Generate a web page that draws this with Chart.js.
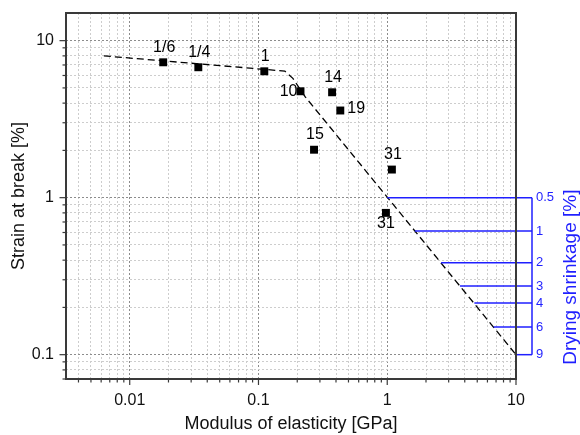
<!DOCTYPE html>
<html>
<head>
<meta charset="utf-8">
<script src="https://cdn.jsdelivr.net/npm/chart.js@4/dist/chart.umd.min.js"></script>
<style>
  html, body { margin: 0; padding: 0; background: #fff; }
  #wrap { width: 580px; height: 435px; }
</style>
</head>
<body>
<div id="wrap"><canvas id="strain-chart" width="580" height="435"></canvas></div>
<script>
const pointLabels = ['1/6', '1/4', '1', '10', '14', '19', '15', '31', '31'];
const modulus = [0.0182, 0.0341, 0.111, 0.212, 0.373, 0.432, 0.270, 1.087, 0.977];
const strain = [7.28, 6.77, 6.38, 4.76, 4.69, 3.59, 2.02, 1.51, 0.80];

const trendModulus = [0.0063, 0.16, 0.185, 0.23, 10];
const trendStrain = [8.0, 6.4, 5.75, 4.4, 0.1];

const shrinkageLabels = ['0.5', '1', '2', '3', '4', '6', '9'];
const shrinkageStrain = [1, 0.613, 0.385, 0.274, 0.213, 0.15, 0.1];
const shrinkageModulus = [1, 1.64, 2.62, 3.67, 4.75, 6.7, 10];

const xTickValues = [0.01, 0.1, 1, 10];
const xTickLabels = ['0.01', '0.1', '1', '10'];
const yTickValues = [0.1, 1, 10];
const yTickLabels = ['0.1', '1', '10'];

const FONT = "'Liberation Sans', Arial, sans-serif";
const BLUE = '#1f1fff';
const AXIS = '#3a3a3a';

// which side of its marker each label goes
const labelPlace = ['top', 'top', 'top', 'left', 'top', 'right', 'top', 'top', 'bottom'];

function logTicks(min, max) {
    let ticks = [];
    for (let e = Math.floor(Math.log10(min)); e <= Math.ceil(Math.log10(max)); e++) {
        for (let m = 1; m < 10; m++) {
            let v = parseFloat((m * Math.pow(10, e)).toPrecision(3));
            if (v >= min * 0.999 && v <= max * 1.001) {
                ticks.push({value: v, major: m === 1});
            }
        }
    }
    return ticks;
}

function tickLabel(values, labels) {
    return function(v) {
        let i = values.indexOf(v);
        return i < 0 ? '' : labels[i];
    };
}

const decorations = {
    id: 'decorations',
    afterDatasetsDraw(chart) {
        const ctx = chart.ctx;
        const x = chart.scales.x, y = chart.scales.y;
        const area = chart.chartArea;
        const axisX = area.right + 16;

        // drying shrinkage scale on the right
        ctx.save();
        ctx.strokeStyle = BLUE;
        ctx.lineWidth = 1.5;
        shrinkageStrain.forEach(function(s, i) {
            let py = y.getPixelForValue(s);
            ctx.beginPath();
            ctx.moveTo(x.getPixelForValue(shrinkageModulus[i]), py);
            ctx.lineTo(axisX, py);
            ctx.stroke();
        });
        let y0 = y.getPixelForValue(shrinkageStrain[0]);
        let y1 = y.getPixelForValue(shrinkageStrain[shrinkageStrain.length - 1]);
        ctx.beginPath();
        ctx.moveTo(axisX, y0);
        ctx.lineTo(axisX, y1);
        ctx.stroke();

        ctx.fillStyle = BLUE;
        ctx.font = '13px ' + FONT;
        ctx.textAlign = 'left';
        ctx.textBaseline = 'middle';
        shrinkageStrain.forEach(function(s, i) {
            ctx.fillText(shrinkageLabels[i], axisX + 4, y.getPixelForValue(s));
        });

        ctx.translate(area.right + 55, (y0 + y1) / 2 + 1);
        ctx.rotate(-Math.PI / 2);
        ctx.textAlign = 'center';
        ctx.font = '19px ' + FONT;
        ctx.fillText('Drying shrinkage [%]', 0, 0);
        ctx.restore();

        // sample labels
        const meta = chart.getDatasetMeta(0);
        ctx.save();
        ctx.fillStyle = '#000';
        ctx.font = '16px ' + FONT;
        ctx.textBaseline = 'middle';
        meta.data.forEach(function(pt, i) {
            let place = labelPlace[i];
            if (place === 'top') {
                ctx.textAlign = 'center';
                ctx.fillText(pointLabels[i], pt.x + 1, pt.y - 15);
            } else if (place === 'bottom') {
                ctx.textAlign = 'center';
                ctx.fillText(pointLabels[i], pt.x, pt.y + 11);
            } else if (place === 'left') {
                ctx.textAlign = 'right';
                ctx.fillText(pointLabels[i], pt.x - 3, pt.y);
            } else {
                ctx.textAlign = 'left';
                ctx.fillText(pointLabels[i], pt.x + 7, pt.y - 1.5);
            }
        });
        ctx.restore();
    },
    afterDraw(chart) {
        const ctx = chart.ctx;
        const area = chart.chartArea;
        ctx.save();
        ctx.strokeStyle = AXIS;

        // outward tick marks, long on decades
        ctx.lineWidth = 1.2;
        chart.scales.x.ticks.forEach(function(t) {
            let px = chart.scales.x.getPixelForValue(t.value);
            ctx.beginPath();
            ctx.moveTo(px, area.bottom);
            ctx.lineTo(px, area.bottom + (t.major ? 6 : 3.5));
            ctx.stroke();
        });
        chart.scales.y.ticks.forEach(function(t) {
            let py = chart.scales.y.getPixelForValue(t.value);
            ctx.beginPath();
            ctx.moveTo(area.left, py);
            ctx.lineTo(area.left - (t.major ? 6.5 : 3.5), py);
            ctx.stroke();
        });

        ctx.lineWidth = 2;
        ctx.strokeRect(area.left, area.top, area.right - area.left, area.bottom - area.top);
        ctx.restore();
    }
};

const points = modulus.map(function(m, i) { return {x: m, y: strain[i]}; });
const trend = trendModulus.map(function(m, i) { return {x: m, y: trendStrain[i]}; });

function gridColor(c) {
    return c.tick && c.tick.major ? '#8c8c8c' : '#cdcdcd';
}

new Chart(document.getElementById('strain-chart'), {
    type: 'scatter',
    data: {
        datasets: [
            {
                data: points,
                pointStyle: 'rect',
                pointRadius: 5.6,
                pointHoverRadius: 5.6,
                backgroundColor: '#000',
                borderWidth: 0,
            },
            {
                data: trend,
                showLine: true,
                borderColor: '#000',
                borderWidth: 1.3,
                borderDash: [7, 4],
                pointRadius: 0,
                fill: false,
            }
        ]
    },
    options: {
        responsive: false,
        animation: false,
        events: [],
        layout: { padding: { top: 13, right: 64, left: 0, bottom: 0 } },
        plugins: { legend: { display: false }, tooltip: { enabled: false } },
        scales: {
            x: {
                type: 'logarithmic',
                position: 'bottom',
                min: 0.0032,
                max: 10,
                afterBuildTicks: function(axis) { axis.ticks = logTicks(axis.min, axis.max); },
                afterFit: function(axis) {
                    axis.height = 56;
                    axis.paddingLeft = 0;
                    axis.paddingRight = 0;
                },
                grid: { color: gridColor, lineWidth: 1, drawTicks: false },
                border: { display: false, dash: [2, 2] },
                ticks: {
                    autoSkip: false,
                    maxRotation: 0,
                    padding: 12,
                    color: '#111',
                    font: { family: FONT, size: 16 },
                    callback: tickLabel(xTickValues, xTickLabels),
                },
                title: {
                    display: true,
                    text: 'Modulus of elasticity [GPa]',
                    color: '#111',
                    font: { family: FONT, size: 18 },
                    padding: { top: 0, bottom: 0 },
                }
            },
            y: {
                type: 'logarithmic',
                position: 'left',
                min: 0.07,
                max: 15,
                afterBuildTicks: function(axis) { axis.ticks = logTicks(axis.min, axis.max); },
                afterFit: function(axis) {
                    axis.width = 66;
                    axis.paddingTop = 0;
                    axis.paddingBottom = 0;
                },
                grid: { color: gridColor, lineWidth: 1, drawTicks: false },
                border: { display: false, dash: [2, 2] },
                ticks: {
                    autoSkip: false,
                    padding: 12,
                    color: '#111',
                    font: { family: FONT, size: 16 },
                    callback: tickLabel(yTickValues, yTickLabels),
                },
                title: {
                    display: true,
                    text: 'Strain at break [%]',
                    color: '#111',
                    font: { family: FONT, size: 18 },
                    padding: { top: 8, bottom: 0 },
                }
            }
        }
    },
    plugins: [decorations]
});
</script>
</body>
</html>
